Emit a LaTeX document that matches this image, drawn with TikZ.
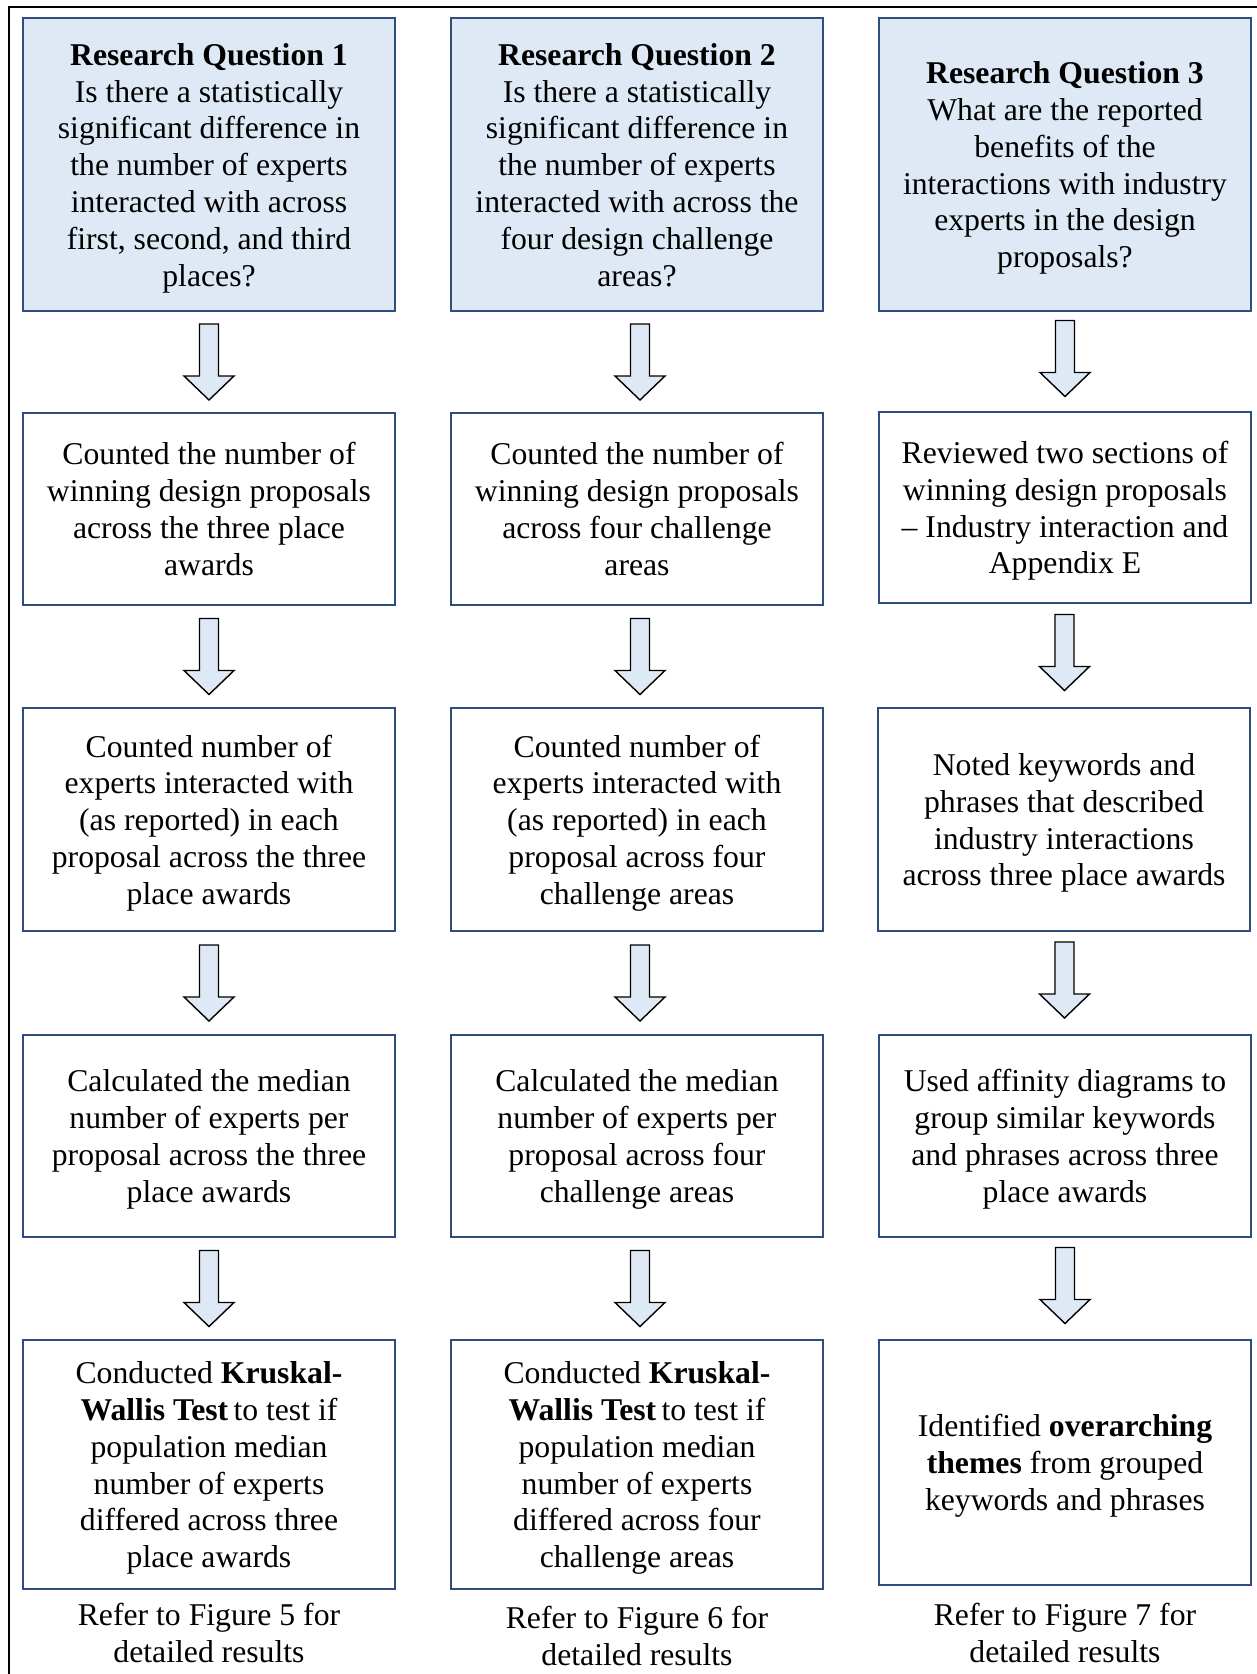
\documentclass[tikz,border=0pt]{standalone}
\usepackage{fontspec}
\setmainfont{Liberation Serif}
\usetikzlibrary{calc}
\definecolor{boxblue}{HTML}{DEE9F5}
\definecolor{boxline}{HTML}{2F4E7F}
\newcommand{\zs}{\rule[-7pt]{0pt}{36.2pt}}
\tikzset{
  base/.style={draw=boxline, line width=2pt, align=center, inner sep=0pt,
    minimum width=372pt, font=\fontsize{31.7}{36.8}\selectfont},
  qbox/.style={base, fill=boxblue},
  sbox/.style={base, fill=white},
  caption/.style={align=center, inner sep=0pt, font=\fontsize{31.7}{36.8}\selectfont},
  barrowstyle/.style={draw=black, line width=1.4pt, fill=boxblue, line join=miter},
  barrow/.pic={\path[barrowstyle] (-9.5,-38) -- (9.5,-38) -- (9.5,14) -- (25,14) -- (0,38) -- (-25,14) -- (-9.5,14) -- cycle;}
}
\begin{document}
\begin{tikzpicture}[x=1pt,y=-1pt]
\useasboundingbox (0,0) rectangle (1257,1674);
\draw[line width=2.5pt] (9,1674) coordinate (fb) -- (9,7) coordinate (fc) -- (1257,7) coordinate (fr);

% column 1
\node[qbox, minimum height=293pt] (a1) at (209,164.5) {\zs\textbf{Research Question 1}\\Is there a statistically\\significant difference in\\the number of experts\\interacted with across\\first, second, and third\\\zs places?};
\node[sbox, minimum height=192pt] (a2) at (209,509) {\zs Counted the number of\\winning design proposals\\across the three place\\\zs awards};
\node[sbox, minimum height=223pt] (a3) at (209,819.5) {\zs Counted number of\\experts interacted with\\(as reported) in each\\proposal across the three\\\zs place awards};
\node[sbox, minimum height=202pt] (a4) at (209,1136) {\zs Calculated the median\\number of experts per\\proposal across the three\\\zs place awards};
\node[sbox, minimum height=249pt] (a5) at (209,1464.5) {\zs Conducted \textbf{Kruskal-}\\\textbf{Wallis Test}\,to test if\\population median\\number of experts\\differed across three\\\zs place awards};
\node[caption] (a6) at ($(a5.south)+(0,43)$) {Refer to Figure 5 for\\detailed results};

% column 2
\node[qbox, minimum height=293pt] (b1) at (637,164.5) {\zs\textbf{Research Question 2}\\Is there a statistically\\significant difference in\\the number of experts\\interacted with across the\\four design challenge\\\zs areas?};
\node[sbox, minimum height=192pt] (b2) at (637,509) {\zs Counted the number of\\winning design proposals\\across four challenge\\\zs areas};
\node[sbox, minimum height=223pt] (b3) at (637,819.5) {\zs Counted number of\\experts interacted with\\(as reported) in each\\proposal across four\\\zs challenge areas};
\node[sbox, minimum height=202pt] (b4) at (637,1136) {\zs Calculated the median\\number of experts per\\proposal across four\\\zs challenge areas};
\node[sbox, minimum height=249pt] (b5) at (637,1464.5) {\zs Conducted \textbf{Kruskal-}\\\textbf{Wallis Test}\,to test if\\population median\\number of experts\\differed across four\\\zs challenge areas};
\node[caption] (b6) at ($(b5.south)+(0,46)$) {Refer to Figure 6 for\\detailed results};

% column 3
\node[qbox, minimum height=293pt] (c1) at (1065,164.5) {\zs\textbf{Research Question 3}\\What are the reported\\benefits of the\\interactions with industry\\experts in the design\\\zs proposals?};
\node[sbox, minimum height=191pt] (c2) at (1065,507.5) {\zs Reviewed two sections of\\winning design proposals\\– Industry interaction and\\\zs Appendix E};
\node[sbox, minimum height=223pt] (c3) at (1064,819.5) {\zs Noted keywords and\\phrases that described\\industry interactions\\\zs across three place awards};
\node[sbox, minimum height=202pt] (c4) at (1065,1136) {\zs Used affinity diagrams to\\group similar keywords\\and phrases across three\\\zs place awards};
\node[sbox, minimum height=245pt] (c5) at (1065,1462.5) {\zs Identified \textbf{overarching}\\\textbf{themes} from grouped\\\zs keywords and phrases};
\node[caption] (c6) at ($(c5.south)+(0,47)$) {Refer to Figure 7 for\\detailed results};

% block arrows
\foreach \col/\dx/\dy in {a/0/0,b/3/0,c/0/-3}{
  \pic at ($(\col1.south)!0.5!(\col2.north)+(\dx,\dy)$) {barrow};
  \pic at ($(\col2.south)!0.5!(\col3.north)+(\dx,\dy)$) {barrow};
  \pic at ($(\col3.south)!0.5!(\col4.north)+(\dx,\dy)$) {barrow};
  \pic at ($(\col4.south)!0.5!(\col5.north)+(\dx,\dy)$) {barrow};
}
\end{tikzpicture}
\end{document}
